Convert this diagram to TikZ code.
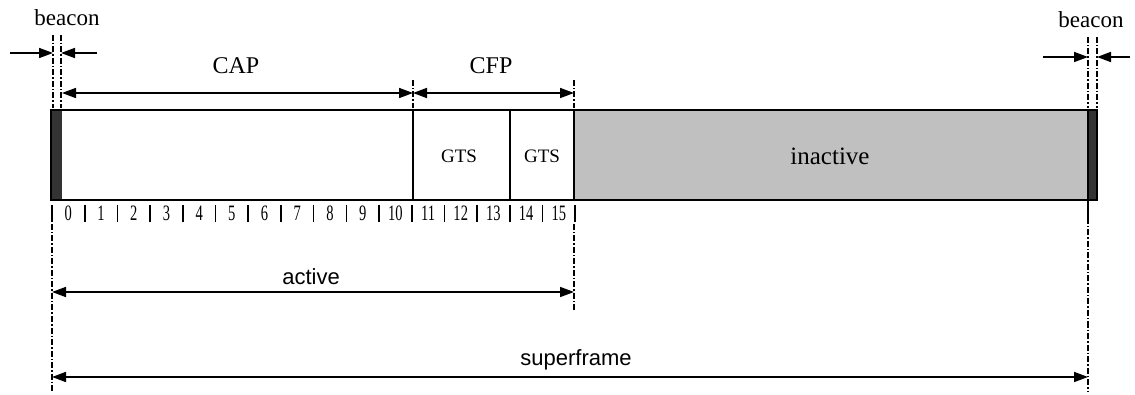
\documentclass[tikz,border=0pt]{standalone}
\usepackage{fontspec}
\usepackage{graphicx}
\setmainfont{Liberation Serif}
\newfontfamily\sansf{Liberation Sans}
\usetikzlibrary{arrows.meta}
\definecolor{beaconc}{HTML}{333333}
\definecolor{inactc}{HTML}{C0C0C0}
\tikzset{
  tipx/.tip={Triangle[length=14pt,width=10pt]},
  dimline/.style={line width=1.7pt, tipx-tipx},
  oneway/.style={line width=1.7pt, -tipx},
  guide/.style={line width=1.1pt, dash pattern=on 6pt off 2pt on 1.5pt off 2pt},
  serlab/.style={font=\fontsize{23}{23}\selectfont, inner sep=0pt},
  gtslab/.style={font=\fontsize{19}{19}\selectfont, inner sep=0pt},
  sanslab/.style={font=\sansf\fontsize{22}{22}\selectfont, inner sep=0pt},
  slotnum/.style={font=\fontsize{22}{22}\selectfont, inner sep=0pt},
  slotbar/.style={line width=1.6pt},
  boxline/.style={line width=1.3pt}
}
\begin{document}
\begin{tikzpicture}[x=1pt,y=-1pt]
\useasboundingbox (0,0) rectangle (1135,395);
% main box
\fill[inactc] (574,110) rectangle (1088,200);
\fill[beaconc] (51,110) rectangle (62,200);
\fill[beaconc] (1088,110) rectangle (1097,200);
\draw[boxline] (51,110) rectangle (1097,200);
\draw[boxline] (413,110) -- (413,200);
\draw[boxline] (510,110) -- (510,200);
\draw[boxline] (574,110) -- (574,200);
\draw[boxline] (1088,110) -- (1088,200);
% labels in box
\node[gtslab] (gts1) at (459,156) {GTS};
\node[gtslab] (gts2) at (542,156) {GTS};
\node[serlab,font=\fontsize{25}{25}\selectfont] (inact) at (830,156) {inactive};
% top guides
\coordinate (lb1) at (53,35);
\coordinate (lb2) at (61,35);
\draw[guide] (lb1) -- (53,108);
\draw[guide] (lb2) -- (61,108);
\draw[guide] (413,80) -- (413,108);
\draw[guide] (574,80) -- (574,108);
\draw[guide] (1088,37) -- (1088,108);
\draw[guide] (1097,37) -- (1097,108);
% left beacon
\node[serlab] (beaconL) at (67,18) {beacon};
\coordinate (lbA) at (10,53);
\coordinate (lbB) at (53,53);
\coordinate (lbC) at (97,53);
\coordinate (lbD) at (61,53);
\draw[oneway] (lbA) -- (lbB);
\draw[oneway] (lbC) -- (lbD);
% right beacon
\node[serlab] (beaconR) at (1091,20) {beacon};
\coordinate (rbA) at (1043,57);
\coordinate (rbB) at (1088,57);
\coordinate (rbC) at (1130,57);
\coordinate (rbD) at (1097,57);
\draw[oneway] (rbA) -- (rbB);
\draw[oneway] (rbC) -- (rbD);
% CAP / CFP
\coordinate (capL) at (62,93);
\coordinate (capR) at (413,93);
\coordinate (cfpR) at (574,93);
\draw[dimline] (capL) -- (capR);
\draw[dimline] (capR) -- (cfpR);
\node[serlab,font=\fontsize{24}{24}\selectfont] (cap) at (236,66) {CAP};
\node[serlab,font=\fontsize{24}{24}\selectfont] (cfp) at (491,66) {CFP};
% slot numbers
\foreach \i in {0,...,16}{
  \draw[slotbar] ({52+32.7*\i},205) -- ({52+32.7*\i},222);
}
\foreach \i in {0,...,15}{
  \node[slotnum] (s\i) at ({52+32.7*\i+16.35},213.5) {\scalebox{0.66}[1]{\i}};
}
% lower guides
\draw[guide] (52,224) -- (52,392);
\draw[guide] (574,224) -- (574,310);
\draw[line width=1.1pt] (1088,200) -- (1088,218);
\draw[guide] (1088,218) -- (1088,392);
% active / superframe
\coordinate (actL) at (52,292);
\coordinate (actR) at (574,292);
\draw[dimline] (actL) -- (actR);
\node[sanslab] (active) at (311,277) {active};
\coordinate (supL) at (52,377);
\coordinate (supR) at (1088,377);
\draw[dimline] (supL) -- (supR);
\node[sanslab] (super) at (576,360) {superframe};
\end{tikzpicture}
\end{document}
